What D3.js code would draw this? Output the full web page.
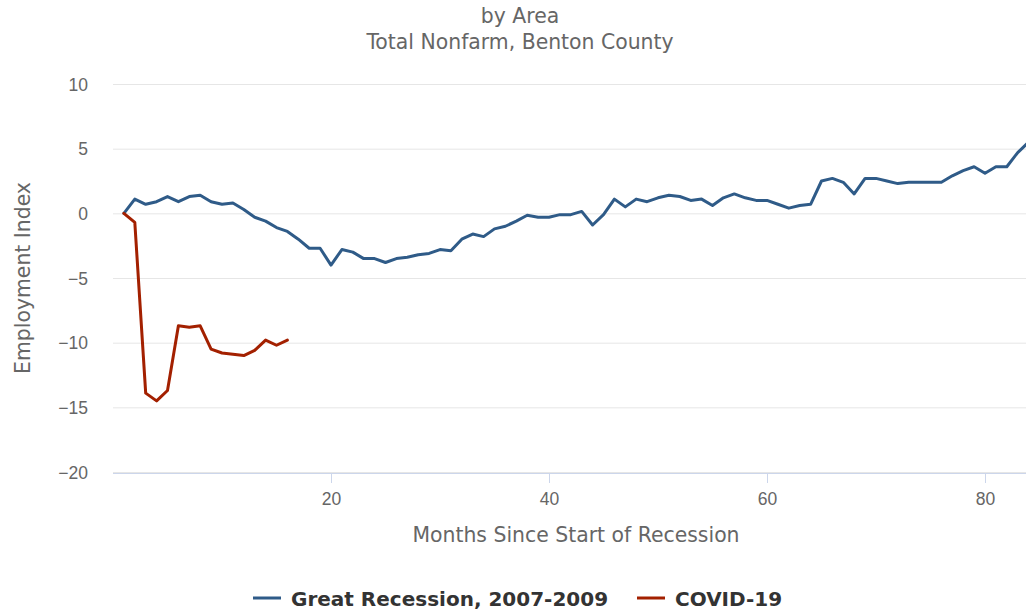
<!DOCTYPE html>
<html>
<head>
<meta charset="utf-8">
<script src="https://cdn.jsdelivr.net/npm/d3@7"></script>
<style>
  body { margin: 0; background: #fff; }
  svg { display: block; font-family: "DejaVu Sans", sans-serif; }
</style>
</head>
<body>
<div id="svg_chart"></div>
<script>
///////////// data //////////////
var title_lines = ['by Area', 'Total Nonfarm, Benton County'];
var y_ticks = [-20, -15, -10, -5, 0, 5, 10];
var x_ticks = [20, 40, 60, 80];
var series_names = ['Great Recession, 2007-2009', 'COVID-19'];
var series_colors = ['#2f5b88', '#a32000'];

// employment index by month since start of recession (month 1 first)
var great_recession = [
  0, 1.1, 0.7, 0.9, 1.3, 0.9, 1.3, 1.4, 0.9, 0.7,
  0.8, 0.3, -0.3, -0.6, -1.1, -1.4, -2.0, -2.7, -2.7, -4.0,
  -2.8, -3.0, -3.5, -3.5, -3.8, -3.5, -3.4, -3.2, -3.1, -2.8,
  -2.9, -2.0, -1.6, -1.8, -1.2, -1.0, -0.6, -0.15, -0.3, -0.3,
  -0.1, -0.1, 0.15, -0.9, -0.1, 1.1, 0.5, 1.1, 0.9, 1.2,
  1.4, 1.3, 1.0, 1.1, 0.6, 1.2, 1.5, 1.2, 1.0, 1.0,
  0.7, 0.4, 0.6, 0.7, 2.5, 2.7, 2.4, 1.5, 2.7, 2.7,
  2.5, 2.3, 2.4, 2.4, 2.4, 2.4, 2.9, 3.3, 3.6, 3.1,
  3.6, 3.6, 4.7, 5.5
];
var covid_19 = [
  0, -0.7, -13.9, -14.5, -13.7, -8.7, -8.8, -8.7, -10.5, -10.8,
  -10.9, -11.0, -10.6, -9.8, -10.2, -9.8
];

///////////// layout //////////////
const svg_width = 1026
const svg_height = 610
const plot_left = 113
const plot_right = 1040
const plot_top = 84
const plot_bottom = 472

var svg = d3.select('#svg_chart').append('svg')
  .attr('width', svg_width)
  .attr('height', svg_height);

var x_scale = d3.scaleLinear()
  .domain([0, 80])
  .range([plot_left, 985]);

var y_scale = d3.scaleLinear()
  .domain([-20, 10])
  .range([plot_bottom, plot_top]);

// title
svg.append('g').selectAll('text')
  .data(title_lines)
  .join('text')
  .attr('x', 520)
  .attr('y', (d, i) => 23 + i * 26)
  .attr('text-anchor', 'middle')
  .attr('fill', '#666')
  .style('font-size', '20.4px')
  .text(d => d);

// y grid + labels
var y_axis = svg.append('g')
  .attr('transform', `translate(${plot_left},0)`)
  .call(d3.axisLeft(y_scale).tickValues(y_ticks)
    .tickSize(-(plot_right - plot_left))
    .tickPadding(25)
    .tickFormat(d => d < 0 ? '\u2212' + Math.abs(d) : d));
y_axis.select('.domain').remove();
y_axis.selectAll('.tick line').attr('stroke', '#e6e6e6');
y_axis.selectAll('.tick text')
  .attr('fill', '#666')
  .style('font-size', '17.5px')
  .attr('dy', '0.35em');

// x axis
var x_axis = svg.append('g')
  .attr('transform', `translate(0,${plot_bottom + 1})`)
  .call(d3.axisBottom(x_scale).tickValues(x_ticks)
    .tickSize(10).tickSizeOuter(0).tickPadding(10));
x_axis.select('.domain')
  .attr('stroke', '#ccd6eb')
  .attr('d', `M${plot_left},0.5H${plot_right}`);
x_axis.selectAll('.tick line').attr('stroke', '#ccd6eb');
x_axis.selectAll('.tick text')
  .attr('fill', '#666')
  .style('font-size', '17.5px');

// axis titles
svg.append('text')
  .attr('x', 576)
  .attr('y', 542)
  .attr('text-anchor', 'middle')
  .attr('fill', '#666')
  .style('font-size', '20.4px')
  .text('Months Since Start of Recession');

svg.append('text')
  .attr('transform', `translate(30,${(plot_top + plot_bottom) / 2}) rotate(-90)`)
  .attr('text-anchor', 'middle')
  .attr('fill', '#666')
  .style('font-size', '20.4px')
  .text('Employment Index');

// lines
var line = d3.line()
  .x((d, i) => x_scale(i + 1))
  .y(d => y_scale(d));

svg.append('g').selectAll('path')
  .data([great_recession, covid_19])
  .join('path')
  .attr('fill', 'none')
  .attr('stroke', (d, i) => series_colors[i])
  .attr('stroke-width', 3)
  .attr('stroke-linejoin', 'round')
  .attr('stroke-linecap', 'round')
  .attr('d', line);

// legend
var legend_x = [253, 637];
var legend = svg.append('g').selectAll('g')
  .data(series_names)
  .join('g')
  .attr('transform', (d, i) => `translate(${legend_x[i]},598)`);
legend.append('line')
  .attr('x1', 0).attr('x2', 28)
  .attr('stroke', (d, i) => series_colors[i])
  .attr('stroke-width', 3);
legend.append('text')
  .attr('x', 38)
  .attr('y', 8)
  .attr('fill', '#333')
  .style('font-size', '20px')
  .style('font-weight', 'bold')
  .text(d => d);
</script>
</body>
</html>
